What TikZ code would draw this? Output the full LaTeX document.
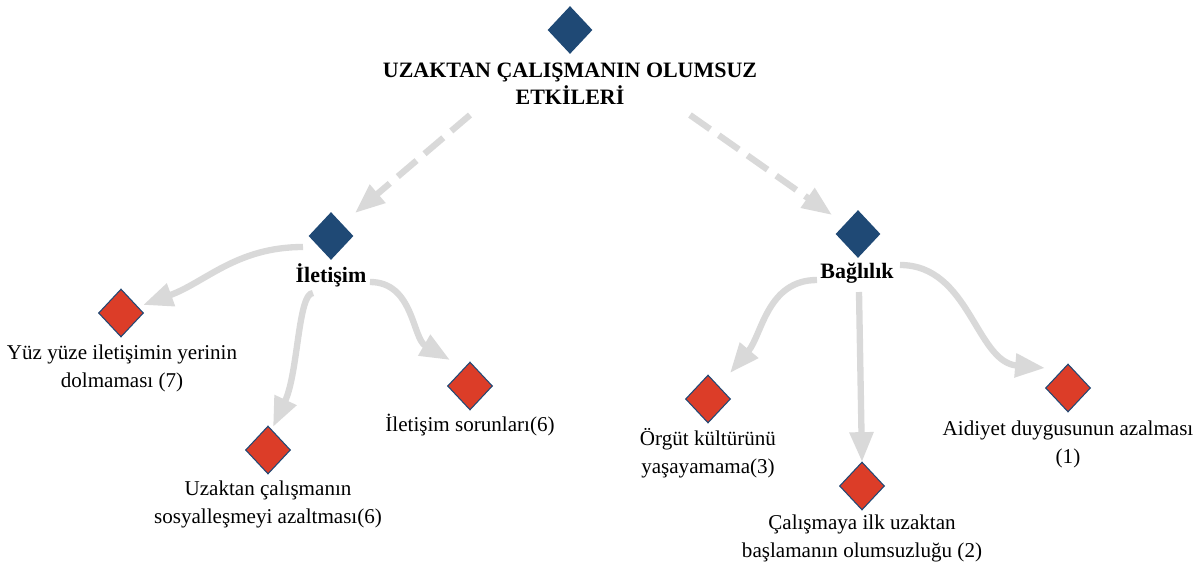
\documentclass[tikz,border=0pt]{standalone}
\usepackage{fontspec}
\setmainfont{Liberation Serif}
\usetikzlibrary{shapes.geometric, arrows.meta}
\definecolor{koyumavi}{RGB}{31,73,117}
\definecolor{kirmizi}{RGB}{220,61,40}
\definecolor{okgri}{RGB}{217,217,217}

\begin{document}
\begin{tikzpicture}[x=0.02cm, y=0.02cm,
        ana/.style={diamond, fill=koyumavi, inner sep=0pt, minimum width=0.9cm, minimum height=0.96cm},
        alt/.style={diamond, fill=kirmizi, draw=koyumavi, line width=0.6pt, inner sep=0pt, minimum width=0.9cm, minimum height=0.96cm},
        baslik/.style={font=\bfseries\fontsize{12.5}{15.5}\selectfont, align=center, inner sep=0pt},
        etiket/.style={font=\fontsize{12}{15.9}\selectfont, align=center, inner sep=0pt},
        kesik/.style={draw=okgri, line width=3.6pt, dash pattern=on 14pt off 6pt, -{Triangle[length=17pt,width=13pt]}},
        okcizgi/.style={draw=okgri, line width=3.6pt, -{Triangle[length=17pt,width=13pt]}}]
                \useasboundingbox (0,0) rectangle (1203,566);
                % ana kavramlar
                \node[ana] (ust) at (570,536) {};
                \node[baslik] (ustT) at (570,482) {UZAKTAN ÇALIŞMANIN OLUMSUZ\\ETKİLERİ};
                \node[ana] (ilet) at (331,330) {};
                \node[baslik] (iletT) at (331,291) {İletişim};
                \node[ana] (bag) at (858,332) {};
                \node[baslik] (bagT) at (857,293) {Bağlılık};
                % alt kodlar
                \node[alt] (yuz) at (121,253) {};
                \node[etiket] (yuzT) at (122,198) {Yüz yüze iletişimin yerinin\\dolmaması (7)};
                \node[alt] (uzak) at (268,116) {};
                \node[etiket] (uzakT) at (268,62) {Uzaktan çalışmanın\\sosyalleşmeyi azaltması(6)};
                \node[alt] (sorun) at (470,180) {};
                \node[etiket] (sorunT) at (470,141) {İletişim sorunları(6)};
                \node[alt] (orgut) at (708,167) {};
                \node[etiket] (orgutT) at (708,113) {Örgüt kültürünü\\yaşayamama(3)};
                \node[alt] (calis) at (862,80) {};
                \node[etiket] (calisT) at (862,28) {Çalışmaya ilk uzaktan\\başlamanın olumsuzluğu (2)};
                \node[alt] (aid) at (1068,178) {};
                \node[etiket] (aidT) at (1068,122) {Aidiyet duygusunun azalması\\(1)};
                % oklar
                \draw[kesik] ([shift={(-100,-85)}]ust.center) -- ([shift={(24,23)}]ilet.center);
                \draw[kesik] ([shift={(120,-85)}]ust.center) -- ([shift={(-26,19)}]bag.center);
                \draw[okcizgi] ([shift={(-28,-11)}]ilet.center) to[out=180, in=20] ([shift={(22,8)}]yuz.center);
                \draw[okcizgi] ([shift={(-18,-57)}]ilet.center) to[out=180, in=65, out distance=0.3cm, in distance=1.2cm] ([shift={(5,23)}]uzak.center);
                \draw[okcizgi] ([shift={(39,-46)}]ilet.center) to[out=0, in=150] ([shift={(-20,26)}]sorun.center);
                \draw[okcizgi] ([shift={(-41,-46)}]bag.center) to[out=180, in=50] ([shift={(22,26)}]orgut.center);
                \draw[okcizgi] ([shift={(1,-58)}]bag.center) -- ([shift={(0,24)}]calis.center);
                \draw[okcizgi] ([shift={(42,-31)}]bag.center) to[out=0, in=175] ([shift={(-23,20)}]aid.center);
            \end{tikzpicture}
\end{document}
